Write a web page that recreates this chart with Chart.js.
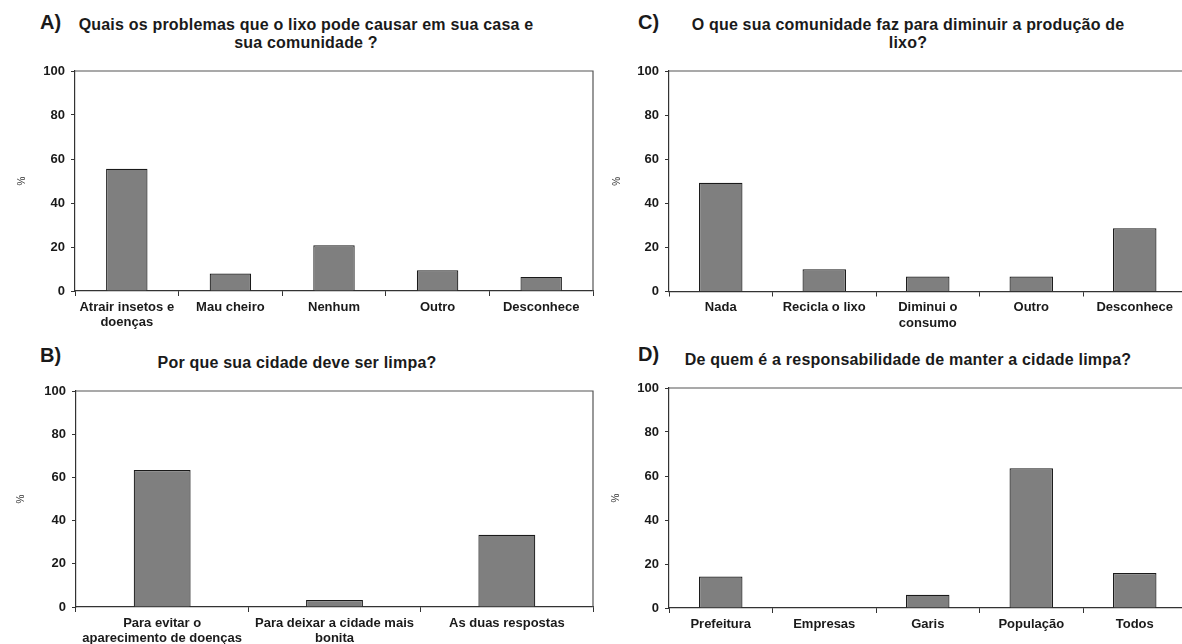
<!DOCTYPE html>
<html>
<head>
<meta charset="utf-8">
<script src="https://cdn.jsdelivr.net/npm/chart.js@4"></script>
<style>
    html, body { margin: 0; padding: 0; background: #fff; overflow: hidden; }
    body { width: 1182px; height: 644px; position: relative; font-family: 'Liberation Sans', Arial, sans-serif; color: #1a1a1a; }
    .panel { position: absolute; }
    .tag { position: absolute; font-weight: bold; font-size: 20px; line-height: 20px; }
    .title { position: absolute; font-weight: bold; font-size: 16px; letter-spacing: 0.2px; line-height: 18px; text-align: center; white-space: nowrap; }
</style>
</head>
<body>

<div class="tag" style="left:40px; top:12px;">A)</div>
<div class="title" style="left:56px; top:16px; width:500px;">Quais os problemas que o lixo pode causar em sua casa e<br>sua comunidade ?</div>

<div class="tag" style="left:638px; top:12px;">C)</div>
<div class="title" style="left:658px; top:16px; width:500px;">O que sua comunidade faz para diminuir a produção de<br>lixo?</div>

<div class="tag" style="left:40px; top:345px;">B)</div>
<div class="title" style="left:97px; top:354px; width:400px;">Por que sua cidade deve ser limpa?</div>

<div class="tag" style="left:638px; top:344px;">D)</div>
<div class="title" style="left:658px; top:351px; width:500px;">De quem é a responsabilidade de manter a cidade limpa?</div>

<canvas id="chartA" class="panel" style="left:0; top:60px;" width="600" height="280"></canvas>
<canvas id="chartC" class="panel" style="left:600px; top:60px;" width="590" height="280"></canvas>
<canvas id="chartB" class="panel" style="left:0; top:370px;" width="600" height="274"></canvas>
<canvas id="chartD" class="panel" style="left:600px; top:370px;" width="590" height="274"></canvas>

<script>
const catsA = [['Atrair insetos e', 'doenças'], 'Mau cheiro', 'Nenhum', 'Outro', 'Desconhece'];
const valsA = [55.6, 7.9, 20.8, 9.4, 6.4];

const catsB = [['Para evitar o', 'aparecimento de doenças'], ['Para deixar a cidade mais', 'bonita'], 'As duas respostas'];
const valsB = [63.4, 3.2, 33.4];

const catsC = ['Nada', 'Recicla o lixo', ['Diminui o', 'consumo'], 'Outro', 'Desconhece'];
const valsC = [49.3, 10.1, 6.8, 6.8, 28.7];

const catsD = ['Prefeitura', 'Empresas', 'Garis', 'População', 'Todos'];
const valsD = [14.3, 0, 6.0, 63.5, 15.9];

const yMin = 0;
const yMax = 100;
const yStep = 20;
const yTitle = '%';

const FONT = "'Liberation Sans', Arial, sans-serif";

// box around the plot area, like the spreadsheet original
const plotBorder = {
    id: 'plotBorder',
    afterDatasetsDraw(chart) {
        const { ctx, chartArea: a } = chart;
        ctx.save();
        ctx.strokeStyle = '#555';
        ctx.lineWidth = 1.2;
        ctx.beginPath();
        ctx.moveTo(a.left, a.top);
        ctx.lineTo(a.right, a.top);
        ctx.lineTo(a.right, a.bottom);
        ctx.stroke();
        ctx.restore();
    }
};

function makeChart(id, labels, values, cfg) {
    const ctx = document.getElementById(id).getContext('2d');
    return new Chart(ctx, {
        type: 'bar',
        data: {
            labels: labels,
            datasets: [{
                data: values,
                backgroundColor: '#7f7f7f',
                borderColor: '#1a1a1a',
                borderWidth: 1.2,
                barPercentage: cfg.bar,
                categoryPercentage: 1
            }]
        },
        options: {
            responsive: false,
            animation: false,
            layout: { padding: { top: cfg.top, right: cfg.right, left: 0, bottom: 0 } },
            plugins: { legend: { display: false }, tooltip: { enabled: false } },
            scales: {
                x: {
                    offset: true,
                    grid: { display: true, drawOnChartArea: false, tickLength: 5, color: '#333', offset: true },
                    border: { display: true, color: '#333', width: 1.2 },
                    ticks: {
                        color: '#1a1a1a',
                        padding: 3,
                        maxRotation: 0,
                        autoSkip: false,
                        font: { family: FONT, size: 13, weight: 'bold', lineHeight: 1.22 }
                    },
                    afterFit: s => { s.height = cfg.xh; s.paddingLeft = 0; s.paddingRight = 0; }
                },
                y: {
                    min: yMin,
                    max: yMax,
                    grid: { display: true, drawOnChartArea: false, tickLength: 4, color: '#333' },
                    border: { display: true, color: '#333', width: 1.2 },
                    ticks: {
                        stepSize: yStep,
                        color: '#1a1a1a',
                        padding: 6,
                        font: { family: FONT, size: 13, weight: 'bold' }
                    },
                    title: {
                        display: true,
                        text: yTitle,
                        color: '#333',
                        padding: { top: cfg.tpad, bottom: 0 },
                        font: { family: FONT, size: 10 }
                    },
                    afterFit: s => { s.width = cfg.yw; s.paddingTop = 0; s.paddingBottom = 0; }
                }
            }
        },
        plugins: [plotBorder]
    });
}

makeChart('chartA', catsA, valsA, { bar: 0.4, top: 11, right: 7, xh: 49, yw: 75, tpad: 16 });
makeChart('chartC', catsC, valsC, { bar: 0.42, top: 11, right: 3.5, xh: 48.5, yw: 69, tpad: 11 });
makeChart('chartB', catsB, valsB, { bar: 0.33, top: 21, right: 7, xh: 37, yw: 76, tpad: 15 });
makeChart('chartD', catsD, valsD, { bar: 0.42, top: 18, right: 3.5, xh: 36, yw: 69, tpad: 10 });
</script>
</body>
</html>
